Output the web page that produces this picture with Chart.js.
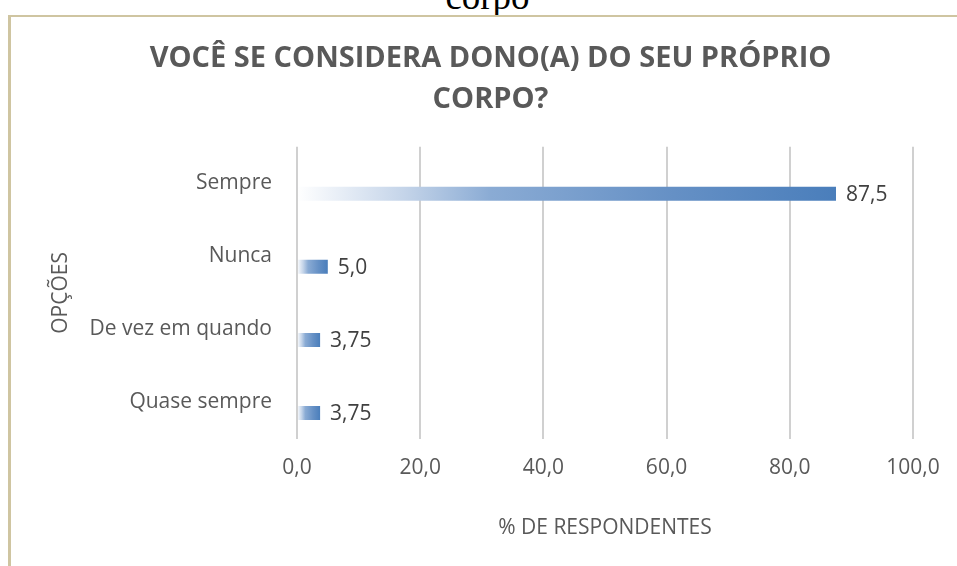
<!DOCTYPE html>
<html lang="pt-BR">
<head>
<meta charset="utf-8">
<title>Você se considera dono(a) do seu próprio corpo?</title>
<script src="https://cdn.jsdelivr.net/npm/chart.js@4.4.1/dist/chart.umd.min.js"></script>
<style>
    html, body { margin: 0; padding: 0; background: #fff; overflow: hidden; }
    #wrap { position: relative; width: 957px; height: 566px; }
    #chart { position: absolute; left: 0; top: 0; }
    /* resto da legenda do documento, cortada no topo */
    #cut { position: absolute; left: 0; width: 975px; top: -22px; text-align: center;
           font: 37px/37px "Liberation Serif", serif; color: #000; }
    #frame { position: absolute; left: 8px; top: 15px; width: 2000px; height: 1000px;
             border-left: 3px solid #cfc5a1; border-top: 2px solid #cfc5a1; pointer-events: none; }
</style>
</head>
<body>
<div id="wrap">
    <div id="cut">corpo</div>
    <canvas id="chart" width="957" height="566"></canvas>
    <div id="frame"></div>
</div>
<script>
// Dados
const categorias = ['Sempre', 'Nunca', 'De vez em quando', 'Quase sempre'];
const percentuais = [87.5, 5.0, 3.75, 3.75];
const vazio = [null, null, null, null]; // série oculta (desloca as barras como no original)
const tituloLinhas = ['VOCÊ SE CONSIDERA DONO(A) DO SEU PRÓPRIO', 'CORPO?'];
const eixoX = '% DE RESPONDENTES';
const eixoY = 'OPÇÕES';

const fonte = '"Open Sans", "DejaVu Sans", sans-serif';
const cinza = '#595959';

function virgula(v, casas) {
    return v.toLocaleString('pt-BR', { minimumFractionDigits: casas });
}

// Gradiente branco -> azul em cada barra
function corBarra(ctx) {
    const chart = ctx.chart;
    if (ctx.type !== 'data' || !chart.chartArea || ctx.raw == null) return '#4a7ebb';
    const xs = chart.scales.x;
    const x0 = xs.getPixelForValue(0);
    const x1 = xs.getPixelForValue(ctx.raw);
    const g = chart.ctx.createLinearGradient(x0, 0, Math.max(x1, x0 + 1), 0);
    g.addColorStop(0, '#ffffff');
    g.addColorStop(0.2, '#c4d4e9');
    g.addColorStop(0.36, '#8aabd4');
    g.addColorStop(0.7, '#6590c5');
    g.addColorStop(1, '#4a7ebb');
    return g;
}

// Rótulos de valor à direita das barras
const rotulos = {
    id: 'rotulos',
    afterDatasetsDraw(chart) {
        const c = chart.ctx;
        const meta = chart.getDatasetMeta(1);
        c.save();
        c.font = '21px ' + fonte;
        c.fillStyle = '#404040';
        c.textBaseline = 'middle';
        c.textAlign = 'left';
        meta.data.forEach((bar, i) => {
            const v = percentuais[i];
            c.fillText(virgula(v, 1), bar.x + 10, bar.y + 1);
        });
        c.restore();
    }
};

new Chart(document.getElementById('chart'), {
    type: 'bar',
    data: {
        labels: categorias,
        datasets: [
            { label: '', data: vazio },
            {
                label: eixoX,
                data: percentuais,
                backgroundColor: corBarra,
                borderWidth: 0
            }
        ]
    },
    options: {
        indexAxis: 'y',
        responsive: false,
        animation: false,
        categoryPercentage: 0.575,
        barPercentage: 0.667,
        layout: { padding: { left: 68, right: 44, top: 0, bottom: 0 } },
        plugins: {
            legend: { display: false },
            tooltip: { enabled: false },
            title: {
                display: true,
                text: tituloLinhas,
                color: cinza,
                font: { family: fonte, size: 29, weight: 'bold', lineHeight: 1.41 },
                padding: { top: 38, bottom: 27 }
            }
        },
        scales: {
            x: {
                min: 0,
                max: 100,
                ticks: {
                    stepSize: 20,
                    color: cinza,
                    padding: 16,
                    font: { family: fonte, size: 21 },
                    callback: v => virgula(v, 1)
                },
                grid: { color: '#d0d0d0', lineWidth: 2, drawTicks: false },
                border: { display: false },
                title: {
                    display: true,
                    text: eixoX,
                    color: cinza,
                    font: { family: fonte, size: 21 },
                    padding: { top: 0, bottom: 25 }
                },
                afterFit: s => { s.height = 127; }
            },
            y: {
                ticks: {
                    color: cinza,
                    padding: 25,
                    font: { family: fonte, size: 21 }
                },
                grid: { display: false, drawTicks: false },
                border: { display: false },
                title: {
                    display: true,
                    text: eixoY,
                    color: cinza,
                    font: { family: fonte, size: 21 },
                    padding: { top: -20, bottom: 0 }
                },
                afterFit: s => { s.width = 229; }
            }
        }
    },
    plugins: [rotulos]
});
</script>
</body>
</html>
